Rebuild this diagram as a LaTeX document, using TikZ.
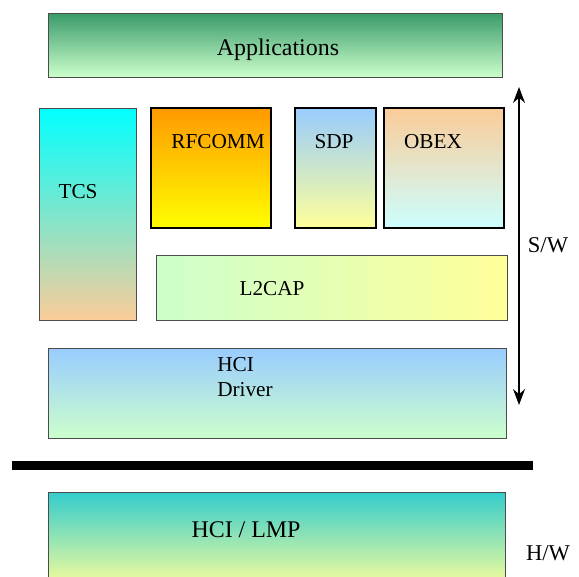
\documentclass[tikz,border=0pt]{standalone}
\usepackage{fontspec}
\setmainfont{Liberation Serif}
\usepackage{tikz}
\usetikzlibrary{arrows.meta}
\usepackage{xcolor}

\definecolor{appgreen}{RGB}{58,154,106}
\definecolor{palegreen}{RGB}{204,255,204}
\definecolor{skyblue}{RGB}{153,204,255}
\definecolor{paleyellow}{RGB}{255,255,153}
\definecolor{peach}{RGB}{251,204,153}
\definecolor{palecyan}{RGB}{204,255,255}
\definecolor{deeporange}{RGB}{255,153,0}
\definecolor{teal2}{RGB}{51,204,204}

\begin{document}
\begin{tikzpicture}[
    layer/.style={draw=gray!60!black, line width=0.6pt, inner sep=0pt},
    proto/.style={draw=black, line width=1.4pt, inner sep=0pt, minimum width=3.175cm, minimum height=3.175cm},
    lbl/.style={font=\fontsize{16}{19}\selectfont, inner sep=0pt},
    biglbl/.style={font=\fontsize{18}{21}\selectfont, inner sep=0pt},
    sidelbl/.style={font=\fontsize{17}{20}\selectfont, inner sep=0pt},
    sidearrow/.style={{Stealth[length=12pt,width=9pt]}-{Stealth[length=12pt,width=9pt]}, line width=0.8pt}
]
    \clip (0,0) rectangle (15.319,-15.240);
    \useasboundingbox (0,0) rectangle (15.319,-15.240);

    % Applications
    \node[layer, top color=appgreen, bottom color=palegreen, minimum width=12.01cm, minimum height=1.693cm] (app) at (7.276,-1.191) {};
    \node[biglbl] (applbl) at (7.355,-1.323) {Applications};

    % TCS (left column)
    \node[layer, top color=cyan, bottom color=peach, minimum width=2.566cm, minimum height=5.609cm] (tcs) at (2.315,-5.662) {};
    \node[lbl] (tcslbl) at (2.064,-5.080) {TCS};

    % Protocols
    \node[proto, top color=deeporange, bottom color=yellow] (rfcomm) at (5.583,-4.445) {};
    \node[lbl] (rfcommlbl) at (5.768,-3.757) {RFCOMM};
    \node[proto, top color=skyblue, bottom color=paleyellow, minimum width=2.143cm] (sdp) at (8.877,-4.445) {};
    \node[lbl] (sdplbl) at (8.837,-3.757) {SDP};
    \node[proto, top color=peach, bottom color=palecyan] (obex) at (11.747,-4.445) {};
    \node[lbl] (obexlbl) at (11.456,-3.757) {OBEX};

    % L2CAP
    \node[layer, left color=palegreen, right color=paleyellow, minimum width=9.287cm, minimum height=1.720cm] (l2cap) at (8.771,-7.607) {};
    \node[lbl] (l2caplbl) at (7.197,-7.646) {L2CAP};

    % HCI driver
    \node[layer, top color=skyblue, bottom color=palegreen, minimum width=12.118cm, minimum height=2.381cm] (hcidrv) at (7.329,-10.398) {};
    \node[lbl, anchor=west, align=left] (hcidrvlbl) at (5.741,-9.975) {HCI\\Driver};

    % S/W - H/W split
    \fill (0.317,-12.197) rectangle (14.102,-12.435);

    % HCI / LMP (hardware)
    \node[layer, top color=teal2, bottom color=paleyellow, minimum width=12.091cm, minimum height=2.593cm] (lmp) at (7.316,-14.314) {};
    \node[biglbl] (lmplbl) at (6.509,-14.023) {HCI / LMP};

    % Side arrow and labels
    \coordinate (swtop) at (13.732,-2.302);
    \coordinate (swbot) at (13.732,-10.715);
    \draw[sidearrow] (swtop) -- (swbot);
    \node[sidelbl] (sw) at (14.499,-6.482) {S/W};
    \node[sidelbl] (hw) at (14.499,-14.631) {H/W};
\end{tikzpicture}
\end{document}
